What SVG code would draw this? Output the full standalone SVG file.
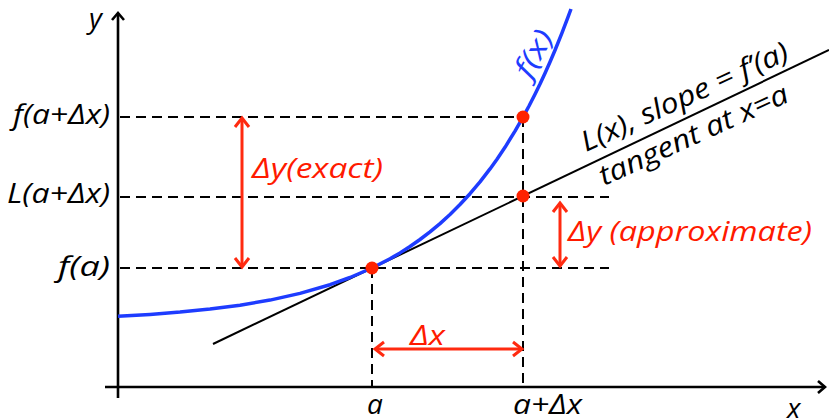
<svg xmlns="http://www.w3.org/2000/svg" width="829" height="420" viewBox="0 0 829 420">
<style>
.t{font-family:"Open Sans","Noto Sans",sans-serif;font-style:italic;font-size:28px;fill:#000}
.r{fill:#FF1A00}
.b{fill:#1E3CFF}
.dash{stroke:#000;stroke-width:2;stroke-dasharray:10 6;fill:none}
.ax{stroke:#000;stroke-width:2.6;fill:none}
.ra{stroke:#FF2A10;stroke-width:3;fill:none}
.dot{fill:#FF2200}
</style>
<defs>
<marker id="ah" markerUnits="userSpaceOnUse" viewBox="-12 -9 14 18" markerWidth="14" markerHeight="18" refX="0" refY="0" orient="auto-start-reverse" overflow="visible">
<path d="M-9,-7 L0,0 L-9,7" fill="none" stroke="#FF2A10" stroke-width="3"/>
</marker>
<marker id="ak" markerUnits="userSpaceOnUse" viewBox="-12 -9 14 18" markerWidth="14" markerHeight="18" refX="0" refY="0" orient="auto" overflow="visible">
<path d="M-7,-6 L0,0 L-7,6" fill="none" stroke="#000" stroke-width="2.6"/>
</marker>
</defs>
<g id="connectors">
<line class="dash" x1="120" y1="117" x2="523" y2="117"/>
<line class="dash" x1="120" y1="197" x2="609" y2="197"/>
<line class="dash" x1="120" y1="268" x2="609" y2="268"/>
<line class="dash" x1="372" y1="268" x2="372" y2="386"/>
<line class="dash" x1="523" y1="117" x2="523" y2="386"/>
<line class="ax" x1="118" y1="398" x2="118" y2="13" marker-end="url(#ak)"/>
<line class="ax" x1="105" y1="387" x2="825" y2="387" marker-end="url(#ak)"/>
<line id="tangent" x1="213" y1="344" x2="829" y2="50" stroke="#000" stroke-width="2"/>
<path id="curve" d="M118,316.3 L150,314.4 L180,312.1 L210,309.1 L240,305.2 L270,300.1 L300,293.4 L330,284.7 L350,277.5 L372,268 L390,258.7 L400,252.9 L410,246.5 L420,239.5 L430,231.9 L440,223.6 L450,214.5 L460,204.5 L470,193.7 L480,181.9 L490,168.9 L497,159.2 L505,147.3 L515,131.1 L523,117.1 L529,106 L535,94.2 L540,84 L545,73.2 L550,62 L555,50.2 L562,32.9 L568,17.2 L571,9" fill="none" stroke="#1E3CFF" stroke-width="3.5" stroke-linejoin="round"/>
<line class="ra" x1="242" y1="118" x2="242" y2="267" marker-start="url(#ah)" marker-end="url(#ah)"/>
<line class="ra" x1="560" y1="203" x2="560" y2="266" marker-start="url(#ah)" marker-end="url(#ah)"/>
<line class="ra" x1="375" y1="349" x2="522" y2="349" marker-start="url(#ah)" marker-end="url(#ah)"/>
</g>
<g id="points">
<circle class="dot" cx="372" cy="268" r="6.5"/>
<circle class="dot" cx="523" cy="196" r="6.5"/>
<circle class="dot" cx="523" cy="117" r="6.5"/>
</g>
<g id="labels">
<text class="t" x="89" y="28">y</text>
<text class="t" x="110" y="124" text-anchor="end" textLength="97" lengthAdjust="spacingAndGlyphs">f(a+Δx)</text>
<text class="t" x="110" y="203" text-anchor="end" textLength="103" lengthAdjust="spacingAndGlyphs">L(a+Δx)</text>
<text class="t" x="110" y="276" text-anchor="end" textLength="52" lengthAdjust="spacingAndGlyphs">f(a)</text>
<text class="t" x="375" y="414" text-anchor="middle">a</text>
<text class="t" x="513" y="414" textLength="69" lengthAdjust="spacingAndGlyphs">a+Δx</text>
<text class="t" x="787" y="418">x</text>
<text class="t r" x="252" y="178" textLength="131" lengthAdjust="spacingAndGlyphs">Δy(exact)</text>
<text class="t r" x="568" y="241" textLength="244" lengthAdjust="spacingAndGlyphs">Δy (approximate)</text>
<text class="t r" x="410" y="345" textLength="35" lengthAdjust="spacingAndGlyphs">Δx</text>
<text class="t b" transform="translate(542,58) rotate(-61)" text-anchor="middle" font-size="30" textLength="50" lengthAdjust="spacingAndGlyphs">f(x)</text>
<text class="t" transform="translate(586,152) rotate(-24.5)" font-size="29" textLength="225" lengthAdjust="spacingAndGlyphs">L(x), slope = f’(a)</text>
<text class="t" transform="translate(604,186) rotate(-24.5)" font-size="29" textLength="205" lengthAdjust="spacingAndGlyphs">tangent at x=a</text>
</g>
</svg>
